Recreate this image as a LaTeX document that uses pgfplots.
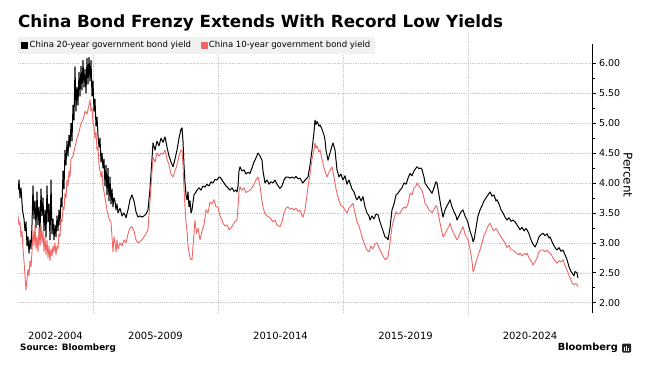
\documentclass[border=0pt]{standalone}
\usepackage{pgfplots}
\pgfplotsset{compat=1.18}
\usepackage{fontspec}
\setmainfont{DejaVu Sans}
\definecolor{bred}{RGB}{240,102,98}
\definecolor{leggray}{RGB}{241,241,241}
\definecolor{gridgray}{RGB}{200,200,200}
\begin{document}
\begin{tikzpicture}[x=1pt,y=1pt]
\useasboundingbox (0,0) rectangle (656,368);
\node[anchor=base west, inner sep=0, font=\fontsize{16.75}{20}\selectfont\bfseries] at (18,340.7) {China Bond Frenzy Extends With Record Low Yields};
\begin{axis}[
  at={(18pt,55pt)}, anchor=south west,
  scale only axis, width=574pt, height=269pt,
  xmin=2002, xmax=2024.96, ymin=1.828, ymax=6.322,
  enlargelimits=false,
  axis y line*=right, axis x line*=bottom,
  x axis line style={draw=none},
  y axis line style={line width=0.6pt},
  xtick={2003.5,2007.5,2012.5,2017.5,2022.48},
  xticklabels={2002-2004,2005-2009,2010-2014,2015-2019,2020-2024},
  major x tick style={draw=none},
  xticklabel style={anchor=center, yshift=-19pt, font=\fontsize{10}{12}\selectfont},
  extra x ticks={2005,2010,2015,2020},
  extra x tick labels={},
  extra x tick style={grid=major, major x tick style={draw=none}, major grid style={gridgray, line width=0.45pt, dash pattern=on 0.8pt off 1pt, shorten >=-11pt, shorten <=-2pt}},
  ytick={2,2.5,...,6},
  minor y tick num=1,
  ymajorgrids,
  major grid style={gridgray, line width=0.45pt, dash pattern=on 0.8pt off 1pt},
  tick align=outside,
  major tick length=3.5pt, minor tick length=3pt,
  y tick style={line width=0.6pt, black},
  yticklabel style={font=\fontsize{9.5}{11}\selectfont, /pgf/number format/fixed, /pgf/number format/fixed zerofill, /pgf/number format/precision=2, /pgf/number format/assume math mode=true},
  legend columns=2,
  legend cell align=left,
  legend image code/.code={\fill[#1] (0pt,-3pt) rectangle (6pt,3pt);},
  legend style={at={(0,0.9628)}, anchor=south west, fill=leggray, draw=none, font=\fontsize{8.5}{10}\selectfont, inner xsep=3pt, inner ysep=2.5pt, /tikz/every even column/.append style={column sep=8pt}, nodes={inner xsep=1.5pt}},
]
\addplot[black, line width=1pt, line join=round] table {
2002.00 3.88
2002.04 4.05
2002.08 3.75
2002.12 3.92
2002.18 3.55
2002.24 3.40
2002.28 3.20
2002.32 3.35
2002.36 2.95
2002.40 3.10
2002.44 2.83
2002.48 3.05
2002.52 2.90
2002.56 3.30
2002.60 3.95
2002.64 3.40
2002.68 3.70
2002.72 3.25
2002.76 3.85
2002.80 3.30
2002.84 3.60
2002.88 3.15
2002.92 3.90
2002.96 3.45
2003.00 3.75
2003.04 3.20
2003.08 3.55
2003.12 3.10
2003.16 3.95
2003.20 3.35
2003.24 3.65
2003.28 3.05
2003.32 4.05
2003.36 3.15
2003.40 3.40
2003.44 3.05
2003.48 3.30
2003.52 3.10
2003.56 3.45
2003.60 3.20
2003.64 3.55
2003.68 3.30
2003.72 3.75
2003.76 3.60
2003.80 4.20
2003.84 3.90
2003.88 4.55
2003.92 4.30
2003.96 4.70
2004.00 4.45
2004.04 4.80
2004.08 4.60
2004.12 5.00
2004.16 4.70
2004.20 5.30
2004.24 5.05
2004.28 5.94
2004.32 5.20
2004.36 5.60
2004.40 5.30
2004.44 5.85
2004.48 5.45
2004.52 5.95
2004.56 5.55
2004.60 6.05
2004.64 5.60
2004.68 5.90
2004.72 5.50
2004.76 6.08
2004.80 5.65
2004.84 6.10
2004.88 5.70
2004.92 6.05
2004.96 5.45
2005.00 5.70
2005.04 5.20
2005.08 5.40
2005.12 4.95
2005.16 5.10
2005.20 4.80
2005.24 4.60
2005.28 4.75
2005.32 4.35
2005.36 4.50
2005.40 4.25
2005.44 4.40
2005.48 3.95
2005.52 4.30
2005.56 3.80
2005.60 4.25
2005.64 3.70
2005.68 4.10
2005.72 3.65
2005.76 3.90
2005.80 3.60
2005.84 3.75
2005.88 3.70
2005.92 3.55
2005.96 3.65
2006.00 3.50
2006.08 3.58
2006.16 3.45
2006.24 3.50
2006.32 3.42
2006.40 3.55
2006.48 3.72
2006.56 3.80
2006.64 3.70
2006.72 3.52
2006.80 3.43
2006.88 3.45
2006.96 3.43
2007.04 3.45
2007.12 3.48
2007.20 3.55
2007.28 3.90
2007.36 4.40
2007.40 4.67
2007.48 4.55
2007.56 4.70
2007.64 4.62
2007.72 4.75
2007.80 4.68
2007.88 4.77
2007.96 4.60
2008.04 4.45
2008.12 4.35
2008.20 4.27
2008.28 4.40
2008.36 4.55
2008.44 4.75
2008.52 4.90
2008.56 4.92
2008.60 4.70
2008.64 4.30
2008.68 4.00
2008.72 3.80
2008.76 3.72
2008.80 3.85
2008.84 3.60
2008.88 3.70
2008.92 3.50
2008.96 3.55
2009.04 3.80
2009.12 3.85
2009.16 3.88
2009.24 3.92
2009.32 3.88
2009.40 3.95
2009.48 3.93
2009.56 3.98
2009.64 3.95
2009.72 4.02
2009.80 4.00
2009.88 4.06
2009.96 4.05
2010.04 4.10
2010.08 4.10
2010.16 4.05
2010.24 4.00
2010.32 3.95
2010.40 3.92
2010.48 3.88
2010.56 3.92
2010.64 3.86
2010.72 3.88
2010.76 3.85
2010.80 3.95
2010.84 4.20
2010.88 4.27
2010.96 4.20
2011.04 4.22
2011.12 4.15
2011.20 4.18
2011.28 4.16
2011.36 4.25
2011.44 4.35
2011.52 4.42
2011.60 4.50
2011.68 4.45
2011.76 4.38
2011.80 4.20
2011.88 4.00
2011.96 4.05
2012.04 3.98
2012.12 4.02
2012.20 4.00
2012.28 4.05
2012.36 3.98
2012.44 3.93
2012.48 3.91
2012.56 3.95
2012.64 4.05
2012.72 4.10
2012.80 4.10
2012.88 4.08
2012.96 4.10
2013.04 4.08
2013.12 4.11
2013.20 4.07
2013.28 4.08
2013.36 4.02
2013.40 4.00
2013.48 4.05
2013.56 4.08
2013.60 4.10
2013.68 4.30
2013.76 4.55
2013.84 4.85
2013.88 5.05
2013.92 4.98
2013.96 5.03
2014.04 4.95
2014.08 4.97
2014.16 4.90
2014.24 4.80
2014.28 4.72
2014.32 4.55
2014.40 4.38
2014.48 4.50
2014.56 4.62
2014.60 4.67
2014.68 4.55
2014.76 4.22
2014.84 4.10
2014.92 4.15
2015.00 4.05
2015.08 4.12
2015.16 3.98
2015.24 4.05
2015.28 4.00
2015.36 3.90
2015.44 3.85
2015.52 3.75
2015.56 3.72
2015.64 3.78
2015.72 3.70
2015.80 3.77
2015.88 3.60
2015.96 3.50
2016.04 3.45
2016.08 3.38
2016.16 3.45
2016.24 3.40
2016.32 3.48
2016.40 3.47
2016.48 3.35
2016.56 3.25
2016.64 3.15
2016.68 3.10
2016.76 3.08
2016.80 3.05
2016.88 3.25
2016.96 3.55
2017.04 3.65
2017.12 3.80
2017.20 3.83
2017.28 3.88
2017.36 3.92
2017.44 4.00
2017.52 3.98
2017.60 4.08
2017.68 4.16
2017.76 4.12
2017.84 4.20
2017.92 4.25
2017.96 4.27
2018.04 4.24
2018.12 4.25
2018.16 4.22
2018.24 4.10
2018.28 4.00
2018.36 3.95
2018.44 3.90
2018.52 3.85
2018.56 3.83
2018.64 3.92
2018.72 4.02
2018.76 4.00
2018.84 3.80
2018.92 3.60
2019.00 3.43
2019.08 3.55
2019.16 3.62
2019.24 3.68
2019.28 3.72
2019.36 3.60
2019.44 3.52
2019.52 3.45
2019.56 3.38
2019.64 3.45
2019.72 3.52
2019.80 3.55
2019.88 3.45
2019.96 3.38
2020.00 3.33
2020.08 3.20
2020.16 3.10
2020.20 3.02
2020.24 3.05
2020.32 3.25
2020.40 3.45
2020.48 3.55
2020.56 3.62
2020.64 3.70
2020.72 3.75
2020.80 3.80
2020.88 3.85
2020.96 3.78
2021.04 3.80
2021.12 3.70
2021.16 3.72
2021.24 3.65
2021.32 3.55
2021.40 3.50
2021.48 3.43
2021.56 3.38
2021.64 3.42
2021.72 3.36
2021.80 3.38
2021.88 3.35
2021.96 3.30
2022.04 3.25
2022.08 3.22
2022.16 3.26
2022.24 3.20
2022.32 3.24
2022.36 3.22
2022.44 3.15
2022.52 3.05
2022.60 2.98
2022.68 2.93
2022.76 3.00
2022.84 3.10
2022.92 3.14
2023.00 3.16
2023.08 3.12
2023.16 3.15
2023.24 3.08
2023.28 3.10
2023.36 3.02
2023.44 2.95
2023.52 2.90
2023.56 2.88
2023.64 2.92
2023.72 2.86
2023.80 2.88
2023.88 2.80
2023.96 2.72
2024.04 2.60
2024.12 2.52
2024.16 2.50
2024.24 2.45
2024.28 2.52
2024.36 2.50
2024.40 2.41
};
\addlegendentry{China 20-year government bond yield}
\addplot[bred, line width=0.9pt, line join=round] table {
2002.00 3.45
2002.04 3.30
2002.08 3.35
2002.12 3.10
2002.16 3.20
2002.20 2.90
2002.24 2.70
2002.28 2.45
2002.32 2.21
2002.36 2.40
2002.40 2.55
2002.44 2.45
2002.48 2.70
2002.52 2.60
2002.56 2.85
2002.60 3.20
2002.64 2.95
2002.68 3.30
2002.72 2.90
2002.76 3.10
2002.80 2.85
2002.84 3.25
2002.88 2.95
2002.92 3.30
2002.96 3.00
2003.00 3.20
2003.04 2.85
2003.08 3.10
2003.12 2.80
2003.16 3.05
2003.20 2.75
2003.24 2.95
2003.28 2.70
2003.32 2.90
2003.36 2.78
2003.40 2.95
2003.44 2.85
2003.48 3.00
2003.52 2.80
2003.56 2.95
2003.60 2.90
2003.64 3.15
2003.68 3.10
2003.72 3.40
2003.76 3.35
2003.80 3.60
2003.84 3.55
2003.88 3.83
2003.92 3.75
2003.96 4.05
2004.00 3.95
2004.04 4.20
2004.08 4.10
2004.12 4.40
2004.20 4.45
2004.28 4.60
2004.36 4.75
2004.44 4.85
2004.52 5.00
2004.60 5.05
2004.68 5.20
2004.76 5.15
2004.84 5.30
2004.88 5.39
2004.92 5.20
2004.96 5.25
2005.00 5.00
2005.04 4.95
2005.08 4.75
2005.12 4.85
2005.16 4.55
2005.20 4.60
2005.24 4.30
2005.32 4.10
2005.36 4.20
2005.40 3.95
2005.48 3.75
2005.56 3.55
2005.64 3.40
2005.72 3.35
2005.80 2.85
2005.84 3.10
2005.88 3.00
2005.92 2.85
2005.96 3.05
2006.00 2.90
2006.08 3.00
2006.16 2.95
2006.24 3.05
2006.32 3.00
2006.40 3.15
2006.48 3.25
2006.56 3.27
2006.64 3.20
2006.72 3.05
2006.80 3.00
2006.88 3.02
2006.96 3.05
2007.04 3.10
2007.12 3.15
2007.20 3.22
2007.28 3.70
2007.36 4.20
2007.40 4.43
2007.48 4.35
2007.56 4.50
2007.64 4.45
2007.72 4.50
2007.80 4.48
2007.88 4.55
2007.96 4.40
2008.04 4.30
2008.12 4.15
2008.20 4.10
2008.28 4.20
2008.36 4.30
2008.44 4.45
2008.52 4.55
2008.56 4.55
2008.60 4.30
2008.64 3.90
2008.68 3.60
2008.72 3.35
2008.76 3.20
2008.80 2.95
2008.84 2.85
2008.88 2.75
2008.92 2.72
2008.96 2.72
2009.02 3.05
2009.08 3.38
2009.14 3.15
2009.20 3.25
2009.28 3.05
2009.36 3.20
2009.44 3.30
2009.52 3.55
2009.60 3.50
2009.68 3.68
2009.76 3.65
2009.84 3.72
2009.92 3.60
2010.00 3.60
2010.08 3.45
2010.16 3.38
2010.20 3.33
2010.28 3.28
2010.36 3.30
2010.44 3.22
2010.52 3.25
2010.60 3.30
2010.68 3.36
2010.76 3.38
2010.80 3.60
2010.84 3.85
2010.88 3.94
2010.96 3.88
2011.04 3.92
2011.12 3.84
2011.20 3.86
2011.28 3.88
2011.36 3.92
2011.44 3.98
2011.52 4.05
2011.60 4.10
2011.68 3.95
2011.76 3.70
2011.80 3.60
2011.88 3.48
2011.96 3.45
2012.04 3.43
2012.12 3.40
2012.20 3.35
2012.28 3.38
2012.36 3.30
2012.44 3.28
2012.48 3.27
2012.56 3.35
2012.64 3.50
2012.72 3.58
2012.80 3.60
2012.88 3.56
2012.96 3.58
2013.04 3.55
2013.12 3.58
2013.20 3.52
2013.28 3.55
2013.36 3.45
2013.40 3.43
2013.48 3.55
2013.56 3.80
2013.60 3.94
2013.68 4.15
2013.76 4.40
2013.84 4.55
2013.88 4.67
2013.92 4.58
2013.96 4.62
2014.04 4.52
2014.08 4.55
2014.16 4.40
2014.24 4.25
2014.32 4.15
2014.36 4.10
2014.44 4.18
2014.52 4.24
2014.56 4.27
2014.64 4.10
2014.72 3.90
2014.76 3.83
2014.84 3.70
2014.92 3.62
2015.00 3.60
2015.08 3.55
2015.16 3.50
2015.24 3.58
2015.32 3.62
2015.40 3.66
2015.48 3.50
2015.56 3.35
2015.64 3.28
2015.68 3.22
2015.76 3.10
2015.84 3.00
2015.92 2.92
2015.96 2.88
2016.04 2.85
2016.12 2.95
2016.20 2.90
2016.28 2.98
2016.36 3.00
2016.44 2.92
2016.52 2.85
2016.60 2.78
2016.68 2.72
2016.76 2.74
2016.80 2.77
2016.88 3.00
2016.96 3.27
2017.04 3.40
2017.12 3.52
2017.20 3.48
2017.28 3.50
2017.36 3.55
2017.44 3.60
2017.52 3.58
2017.60 3.65
2017.68 3.83
2017.76 3.80
2017.84 3.92
2017.92 3.95
2017.96 4.00
2018.04 3.95
2018.12 3.90
2018.16 3.88
2018.24 3.75
2018.28 3.66
2018.36 3.62
2018.44 3.55
2018.52 3.52
2018.56 3.50
2018.64 3.56
2018.72 3.62
2018.76 3.60
2018.84 3.42
2018.92 3.25
2019.00 3.10
2019.08 3.15
2019.16 3.22
2019.24 3.28
2019.28 3.33
2019.36 3.22
2019.44 3.15
2019.52 3.08
2019.56 3.05
2019.64 3.12
2019.72 3.20
2019.80 3.27
2019.88 3.15
2019.96 3.08
2020.00 3.05
2020.08 2.90
2020.16 2.70
2020.20 2.52
2020.24 2.55
2020.32 2.68
2020.40 2.78
2020.48 2.88
2020.56 3.00
2020.64 3.12
2020.72 3.20
2020.80 3.28
2020.88 3.33
2020.96 3.25
2021.04 3.20
2021.12 3.24
2021.16 3.22
2021.24 3.15
2021.32 3.10
2021.40 3.05
2021.48 3.00
2021.56 2.92
2021.64 2.96
2021.72 2.88
2021.80 2.88
2021.88 2.85
2021.96 2.82
2022.04 2.80
2022.08 2.83
2022.16 2.78
2022.24 2.82
2022.32 2.80
2022.36 2.83
2022.44 2.75
2022.52 2.70
2022.60 2.63
2022.68 2.68
2022.76 2.75
2022.84 2.85
2022.92 2.88
2023.00 2.88
2023.08 2.85
2023.16 2.88
2023.24 2.83
2023.28 2.83
2023.36 2.78
2023.44 2.72
2023.52 2.68
2023.56 2.66
2023.64 2.70
2023.72 2.68
2023.80 2.72
2023.88 2.62
2023.96 2.55
2024.04 2.45
2024.12 2.38
2024.16 2.33
2024.24 2.30
2024.32 2.32
2024.40 2.27
};
\addlegendentry{China 10-year government bond yield}
\end{axis}
\node[rotate=-90, font=\fontsize{12}{14}\selectfont] at (628,193) {Percent};
\node[anchor=west, inner sep=0, font=\fontsize{8.8}{10}\selectfont\bfseries] at (20,19.5) {Source: Bloomberg};
\node[anchor=east, inner sep=0, font=\fontsize{9.8}{11}\selectfont\bfseries] at (618,20) {Bloomberg};
\fill[black!85, rounded corners=1pt] (622,15.5) rectangle (631,24.5);
\fill[white] (624.2,17.5) rectangle (625.2,21.5);
\fill[white] (626.1,17.5) rectangle (627.1,22.5);
\fill[white] (628,17.5) rectangle (629,20.5);
\end{tikzpicture}
\end{document}
